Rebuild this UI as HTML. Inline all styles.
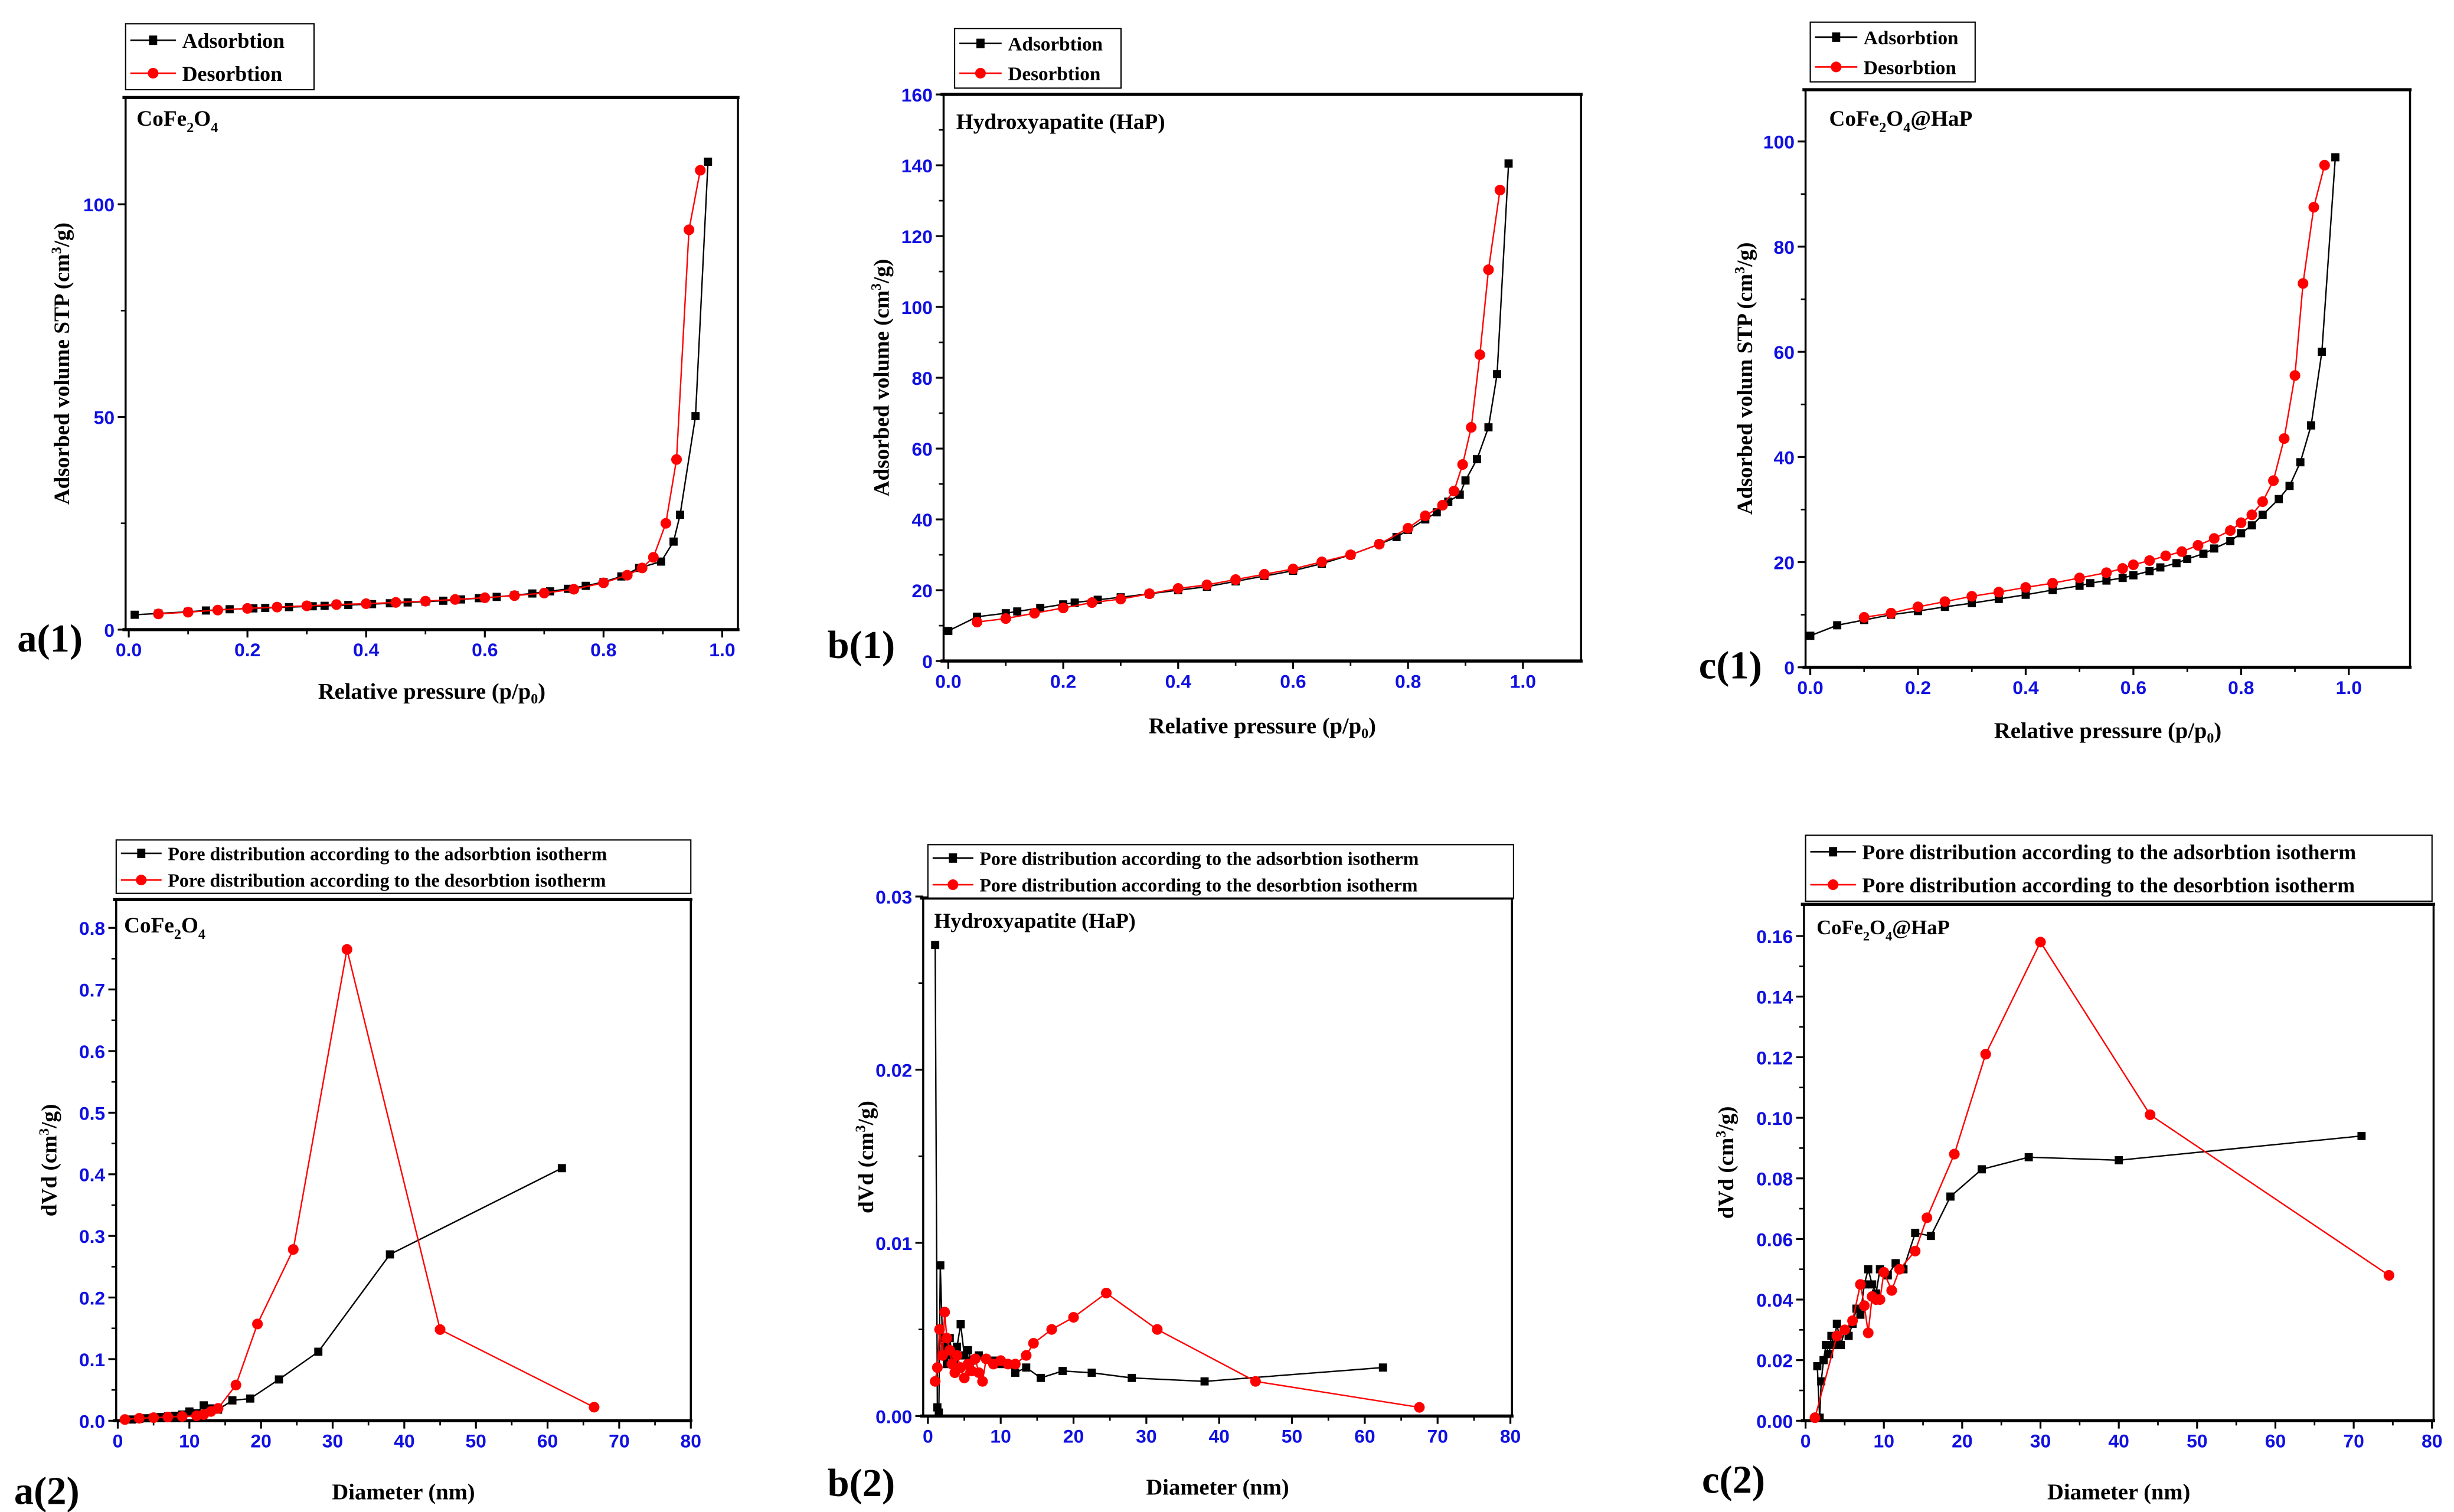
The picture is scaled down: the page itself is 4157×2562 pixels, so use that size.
<!DOCTYPE html>
<html><head><meta charset="utf-8"><style>
html,body{margin:0;padding:0;background:#fff;}
svg{display:block;}
text{font-family:"Liberation Serif",serif;font-weight:bold;}
.tk{font-family:"Liberation Sans",sans-serif;fill:#1010e0;font-weight:bold;}
</style></head><body>
<svg id="fig" xmlns="http://www.w3.org/2000/svg" width="4157" height="2562" viewBox="0 0 1563 963"></svg>
<script>
// a(1)
const a1AdsX=[0.01,0.05,0.1,0.13,0.17,0.21,0.23,0.27,0.31,0.33,0.37,0.41,0.44,0.47,0.5,0.53,0.56,0.59,0.62,0.65,0.68,0.71,0.74,0.77,0.8,0.83,0.86,0.897,0.918,0.929,0.955,0.976];
const a1AdsY=[3.5,3.8,4.2,4.5,4.8,5,5.1,5.3,5.5,5.6,5.8,6,6.2,6.4,6.6,6.8,7.1,7.4,7.7,8.1,8.5,9,9.6,10.3,11.2,12.5,14.5,16,20.7,27,50.2,110];
const a1DesX=[0.05,0.1,0.15,0.2,0.25,0.3,0.35,0.4,0.45,0.5,0.55,0.6,0.65,0.7,0.75,0.8,0.84,0.865,0.884,0.905,0.923,0.944,0.963];
const a1DesY=[3.7,4.1,4.6,5,5.3,5.6,5.9,6.1,6.4,6.7,7.1,7.5,8,8.6,9.5,11,12.8,14.5,17,25,40,94,108];
// b(1)
const b1AdsX=[0,0.05,0.1,0.12,0.16,0.2,0.22,0.26,0.3,0.35,0.4,0.45,0.5,0.55,0.6,0.65,0.7,0.75,0.78,0.8,0.83,0.85,0.87,0.89,0.9,0.92,0.94,0.955,0.975];
const b1AdsY=[8.5,12.5,13.5,14,15,16,16.5,17.3,18,19,20,21,22.5,24,25.5,27.5,30,33,35,37,40,42,45,47,51,57,66,81,140.5];
const b1DesX=[0.05,0.1,0.15,0.2,0.25,0.3,0.35,0.4,0.45,0.5,0.55,0.6,0.65,0.7,0.75,0.8,0.83,0.86,0.88,0.895,0.91,0.925,0.94,0.96];
const b1DesY=[11,12,13.5,15,16.5,17.5,19,20.5,21.5,23,24.5,26,28,30,33,37.5,41,44,48,55.5,66,86.5,110.5,133];
// c(1)
const c1AdsX=[0,0.05,0.1,0.15,0.2,0.25,0.3,0.35,0.4,0.45,0.5,0.52,0.55,0.58,0.6,0.63,0.65,0.68,0.7,0.73,0.75,0.78,0.8,0.82,0.84,0.87,0.89,0.91,0.93,0.95,0.975];
const c1AdsY=[6,8,9,10,10.7,11.5,12.2,13,13.8,14.7,15.5,16,16.5,17,17.5,18.3,19,19.8,20.6,21.6,22.6,24,25.5,27,29,32,34.5,39,46,60,97];
const c1DesX=[0.1,0.15,0.2,0.25,0.3,0.35,0.4,0.45,0.5,0.55,0.58,0.6,0.63,0.66,0.69,0.72,0.75,0.78,0.8,0.82,0.84,0.86,0.88,0.9,0.915,0.935,0.955];
const c1DesY=[9.5,10.3,11.5,12.5,13.5,14.3,15.2,16,17,18,18.8,19.5,20.3,21.2,22,23.2,24.5,26,27.5,29,31.5,35.5,43.5,55.5,73,87.5,95.5];
// a(2)
const a2AdsX=[2,3,4,5,6,7,8,9,10,11,12,13,14,16,18.5,22.5,28,38,62];
const a2AdsY=[0.002,0.003,0.004,0.005,0.006,0.007,0.008,0.01,0.015,0.012,0.025,0.02,0.018,0.033,0.036,0.067,0.112,0.27,0.41];
const a2DesX=[1,3,5,7,9,11,12,13,14,16.5,19.5,24.5,32,45,66.5];
const a2DesY=[0.002,0.004,0.005,0.006,0.007,0.008,0.01,0.015,0.02,0.058,0.157,0.278,0.765,0.148,0.022];
// b(2)
const b2AdsX=[1,1.3,1.5,1.7,2,2.3,2.6,3,3.3,3.6,4,4.5,5,5.5,6,7,8,9,10,11,12,13.5,15.5,18.5,22.5,28,38,62.5];
const b2AdsY=[0.0272,0.0005,0.0002,0.0087,0.0045,0.004,0.003,0.0045,0.0035,0.003,0.004,0.0053,0.0035,0.0038,0.0032,0.0035,0.0033,0.0032,0.003,0.003,0.0025,0.0028,0.0022,0.0026,0.0025,0.0022,0.002,0.0028];
const b2DesX=[1,1.3,1.6,2,2.3,2.6,3,3.3,3.7,4,4.5,5,5.5,6,6.5,7,7.5,8,9,10,11,12,13.5,14.5,17,20,24.5,31.5,45,67.5];
const b2DesY=[0.002,0.0028,0.005,0.0035,0.006,0.0045,0.0038,0.003,0.0025,0.0035,0.0028,0.0022,0.003,0.0026,0.0033,0.0025,0.002,0.0033,0.003,0.0032,0.003,0.003,0.0035,0.0042,0.005,0.0057,0.0071,0.005,0.002,0.0005];
// c(2)
const c2AdsX=[1.5,1.8,2,2.3,2.6,3,3.3,3.6,4,4.5,5,5.5,6,6.5,7,7.5,8,8.5,9,9.5,10.5,11.5,12.5,14,16,18.5,22.5,28.5,40,71];
const c2AdsY=[0.018,0.001,0.013,0.02,0.025,0.022,0.028,0.025,0.032,0.025,0.03,0.028,0.032,0.037,0.035,0.045,0.05,0.045,0.042,0.05,0.048,0.052,0.05,0.062,0.061,0.074,0.083,0.087,0.086,0.094];
const c2DesX=[1.2,4,5,6,7,7.5,8,8.5,9,9.5,10,11,12,14,15.5,19,23,30,44,74.5];
const c2DesY=[0.001,0.028,0.03,0.033,0.045,0.038,0.029,0.041,0.04,0.04,0.049,0.043,0.05,0.056,0.067,0.088,0.121,0.158,0.101,0.048];

const NS="http://www.w3.org/2000/svg";
const fig=document.getElementById('fig');
function mk(tag,attrs,parent,txt){const e=document.createElementNS(NS,tag);for(const k in attrs)e.setAttribute(k,attrs[k]);if(txt!==undefined)e.textContent=txt;(parent||fig).appendChild(e);return e;}

const panels=[
 {id:'a1',fr:[80,470,62,401],x0:82,xu:378,y0:401,yu:2.71,xt:[0,0.2,0.4,0.6,0.8,1.0],xm:0.1,xf:1,yt:[0,50,100],ym:25,yf:0,
  ads:[a1AdsX,a1AdsY],des:[a1DesX,a1DesY],title:['CoFe','2','O','4',''],tpos:[87,80],tsize:14,
  xl:['Relative pressure (p/p','0',')'],xly:445,yl:'Adsorbed volume STP (cm',ylx:44,lab:'a(1)',lpos:[11,415],
  leg:[80,15,200,57],legs:['Adsorbtion','Desorbtion'],lfs:13.5},
 {id:'b1',fr:[601,1007,60,421],x0:604,xu:366,y0:421,yu:2.256,xt:[0,0.2,0.4,0.6,0.8,1.0],xm:0.1,xf:1,yt:[0,20,40,60,80,100,120,140,160],ym:10,yf:0,
  ads:[b1AdsX,b1AdsY],des:[b1DesX,b1DesY],title:['Hydroxyapatite (HaP)'],tpos:[609,82],tsize:14,
  xl:['Relative pressure (p/p','0',')'],xly:467,yl:'Adsorbed volume (cm',ylx:566,lab:'b(1)',lpos:[527,419],
  leg:[608,18,714,56],legs:['Adsorbtion','Desorbtion'],lfs:12.5},
 {id:'c1',fr:[1150,1535,57,425],x0:1153,xu:343,y0:425,yu:3.35,xt:[0,0.2,0.4,0.6,0.8,1.0],xm:0.1,xf:1,yt:[0,20,40,60,80,100],ym:10,yf:0,
  ads:[c1AdsX,c1AdsY],des:[c1DesX,c1DesY],title:['CoFe','2','O','4','@HaP'],tpos:[1165,80],tsize:14,
  xl:['Relative pressure (p/p','0',')'],xly:470,yl:'Adsorbed volum STP (cm',ylx:1116,lab:'c(1)',lpos:[1082,432],
  leg:[1153,14,1258,52],legs:['Adsorbtion','Desorbtion'],lfs:12.5},
 {id:'a2',fr:[74,440,573,905],x0:75,xu:4.5625,y0:905,yu:392.5,xt:[0,10,20,30,40,50,60,70,80],xm:5,xf:0,yt:[0,0.1,0.2,0.3,0.4,0.5,0.6,0.7,0.8],ym:0.05,yf:1,
  ads:[a2AdsX,a2AdsY],des:[a2DesX,a2DesY],title:['CoFe','2','O','4',''],tpos:[79,594],tsize:14,
  xl:['Diameter (nm)'],xly:955,yl:'dVd (cm',ylx:36,lab:'a(2)',lpos:[9,958],
  leg:[74,535,440,569],legs:['Pore distribution according to the adsorbtion isotherm','Pore distribution according to the desorbtion isotherm'],lfs:12},
 {id:'b2',fr:[588,963,572,902],x0:591,xu:4.6375,y0:902,yu:11033,xt:[0,10,20,30,40,50,60,70,80],xm:5,xf:0,yt:[0,0.01,0.02,0.03],ym:0.005,yf:2,
  ads:[b2AdsX,b2AdsY],des:[b2DesX,b2DesY],title:['Hydroxyapatite (HaP)'],tpos:[595,591],tsize:13.5,
  xl:['Diameter (nm)'],xly:952,yl:'dVd (cm',ylx:556,lab:'b(2)',lpos:[527,953],
  leg:[591,538,964,572],legs:['Pore distribution according to the adsorbtion isotherm','Pore distribution according to the desorbtion isotherm'],lfs:12},
 {id:'c2',fr:[1149,1550,576,905],x0:1150,xu:4.9875,y0:905,yu:1930,xt:[0,10,20,30,40,50,60,70,80],xm:5,xf:0,yt:[0,0.02,0.04,0.06,0.08,0.1,0.12,0.14,0.16],ym:0.01,yf:2,
  ads:[c2AdsX,c2AdsY],des:[c2DesX,c2DesY],title:['CoFe','2','O','4','@HaP'],tpos:[1157,595],tsize:13,
  xl:['Diameter (nm)'],xly:955,yl:'dVd (cm',ylx:1104,lab:'c(2)',lpos:[1084,951],
  leg:[1150,532,1549,574],legs:['Pore distribution according to the adsorbtion isotherm','Pore distribution according to the desorbtion isotherm'],lfs:13.5}
];

function fmt(v,d){return v.toFixed(d);}

panels.forEach(p=>{
  const g=mk('g',{});
  
  
  const [L,R,T,B]=p.fr;
  const X=v=>p.x0+v*p.xu, Y=v=>p.y0-v*p.yu;
  const fr=mk('rect',{x:L,y:T,width:R-L,height:B-T,fill:'none',stroke:'#000','stroke-width':1.3},g);
  
  
  mk('line',{x1:L-2,y1:T,x2:R+1,y2:T,stroke:'#000','stroke-width':2},g);
  mk('line',{x1:L-2,y1:B,x2:R+1,y2:B,stroke:'#000','stroke-width':2},g);
  const xax=mk('g',{},g);
  
  
  const xmax=p.xt[p.xt.length-1];
  for(let v=0;v<=xmax+1e-9;v+=p.xm){const x=X(v);mk('line',{x1:x,y1:B,x2:x,y2:B+3,stroke:'#000','stroke-width':1},xax);}
  p.xt.forEach(v=>{const x=X(v);mk('line',{x1:x,y1:B,x2:x,y2:B+5,stroke:'#000','stroke-width':1.2},xax);
    const t=mk('text',{x:x,y:B+17,'text-anchor':'middle','font-size':12,class:'tk'},xax,fmt(v,p.xf));
    
    });
  const yax=mk('g',{},g);
  
  
  const ymax=p.yt[p.yt.length-1];
  for(let v=0;v<=ymax+1e-9;v+=p.ym){const y=Y(v);mk('line',{x1:L,y1:y,x2:L-3,y2:y,stroke:'#000','stroke-width':1},yax);}
  p.yt.forEach(v=>{const y=Y(v);mk('line',{x1:L,y1:y,x2:L-5,y2:y,stroke:'#000','stroke-width':1.2},yax);
    const t=mk('text',{x:L-7,y:y+4.5,'text-anchor':'end','font-size':12,class:'tk'},yax,fmt(v,p.yf));
    
    });
  function series(xs,ys,col,sq,name){
    const sg=mk('g',{},g);
    
    
    const pts=xs.map((x,i)=>X(x).toFixed(2)+','+Y(ys[i]).toFixed(2)).join(' ');
    mk('polyline',{points:pts,fill:'none',stroke:col,'stroke-width':0.9},sg);
    xs.forEach((x,i)=>{
      if(sq) mk('rect',{x:X(x)-2.6,y:Y(ys[i])-2.6,width:5.2,height:5.2,fill:col},sg);
      else mk('circle',{cx:X(x),cy:Y(ys[i]),r:3.4,fill:col},sg);
    });
  }
  series(p.ads[0],p.ads[1],'#000',true,'adsorption-series');
  series(p.des[0],p.des[1],'#ff0000',false,'desorption-series');
  const tt=mk('text',{x:p.tpos[0],y:p.tpos[1],'font-size':p.tsize},g);
  
  
  p.title.forEach((s,i)=>{ if(!s)return; const sub=(i===1||i===3); mk('tspan',sub?{'font-size':p.tsize*0.65,dy:4}:(i>1?{dy:-4}:{}),tt,s);});
  const xl=mk('text',{x:(L+R)/2,y:p.xly,'text-anchor':'middle','font-size':14.5},g);
  
  
  mk('tspan',{},xl,p.xl[0]);
  if(p.xl.length>1){mk('tspan',{'font-size':9,dy:3},xl,p.xl[1]);mk('tspan',{dy:-3},xl,p.xl[2]);}
  const yl=mk('text',{x:0,y:0,'text-anchor':'middle','font-size':14,transform:`translate(${p.ylx},${(T+B)/2}) rotate(-90)`},g);
  
  
  mk('tspan',{},yl,p.yl);mk('tspan',{'font-size':9,dy:-5},yl,'3');mk('tspan',{dy:5},yl,'/g)');
  const pl=mk('text',{x:p.lpos[0],y:p.lpos[1],'font-size':25},g,p.lab);
  
  
  const [lx1,ly1,lx2,ly2]=p.leg;
  const lg=mk('g',{},g);
  
  
  mk('rect',{x:lx1,y:ly1,width:lx2-lx1,height:ly2-ly1,fill:'#fff',stroke:'#000','stroke-width':0.8},lg);
  const rh=(ly2-ly1)/2;
  p.legs.forEach((s,i)=>{
    const cy=ly1+rh*(i+0.5);const col=i?'#ff0000':'#000';
    const e=mk('g',{},lg);
    
    
    const lw=36*(p.lfs/13)*0.75;
    mk('line',{x1:lx1+3,y1:cy,x2:lx1+lw+4,y2:cy,stroke:col,'stroke-width':1},e);
    const mx=lx1+3+(lw+1)/2;
    if(i) mk('circle',{cx:mx,cy:cy,r:3.4,fill:col},e); else mk('rect',{x:mx-2.6,y:cy-3,width:5.2,height:6,fill:col},e);
    mk('text',{x:lx1+lw+8,y:cy+p.lfs*0.36,'font-size':p.lfs},e,s);
  });
});
</script>
</body></html>
